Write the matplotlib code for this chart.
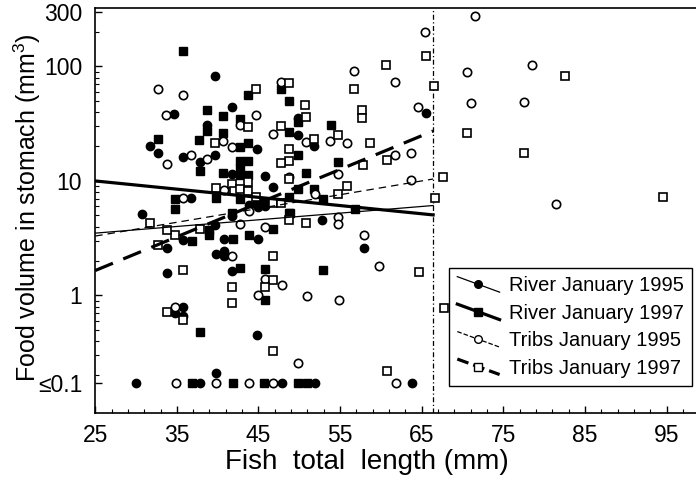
import numpy as np
import matplotlib
matplotlib.use("Agg")
import matplotlib.pyplot as plt
from matplotlib.lines import Line2D
from matplotlib.legend_handler import HandlerBase
from matplotlib.ticker import FixedLocator, MultipleLocator, LogLocator, NullFormatter

plt.rcParams['font.family'] = ['Liberation Sans', 'DejaVu Sans']
plt.rcParams['mathtext.default'] = 'regular'

LOW = 0.172  # plotting position of the "<=0.1" class

# ---- data ----
r95_x = [39.7, 34.7, 41.7, 38.7, 31.7, 32.7, 44.8, 35.7, 37.8, 39.7, 41.7, 45.8, 36.7,
         49.8, 49.8, 46.8, 43.9, 45.0, 45.8, 41.7, 39.7, 35.8, 44.9, 40.8, 39.8, 40.8,
         40.8, 41.7, 35.8, 30.7, 33.8, 33.8, 34.8, 35.8, 44.8, 39.8, 51.8, 65.5, 52.8,
         57.9, 30.0, 37.8, 47.9, 51.9, 63.8]
r95_y = [83, 38.5, 44.5, 31, 20.3, 17.7, 19, 16.3, 14.5, 16.9, 11.4, 11.1, 7.1,
         35.3, 25.2, 8.9, 6.2, 5.9, 6.0, 4.9, 4.1, 3.05, 3.1, 3.1, 2.3, 2.45,
         2.2, 1.65, 0.8, 5.15, 2.6, 1.56, 0.7, 0.66, 0.45, 0.21, 20.2, 39, 4.6,
         2.6, LOW, LOW, LOW, LOW, LOW]

r97_x = [35.7, 43.7, 38.7, 40.6, 42.7, 38.7, 40.6, 32.7, 37.7, 42.7, 43.7, 37.8, 40.7,
         42.7, 43.7, 42.7, 42.7, 43.7, 34.8, 47.8, 48.7, 48.8, 49.8, 50.8, 49.9, 34.8,
         39.8, 42.7, 44.8, 45.8, 48.9, 41.7, 46.8, 38.9, 38.9, 36.8, 43.9, 41.9, 42.7,
         45.8, 45.8, 37.8, 48.8, 52.9, 56.8, 48.8, 52.9, 53.9, 54.8, 51.8, 49.8,
         36.8, 41.9, 45.7, 49.9, 50.9]
r97_y = [137, 56, 42, 37, 35, 27.5, 26.4, 23.1, 22.8, 19.9, 21.6, 12.3, 11.7,
         15.0, 15.0, 12.9, 11.3, 11.3, 7.0, 63.6, 50.3, 27, 16.9, 11.8, 8.5, 5.7,
         7.1, 6.9, 6.4, 6.6, 5.3, 5.3, 3.8, 3.7, 3.4, 3.0, 3.4, 3.1, 1.73,
         1.69, 0.91, 0.48, 7.2, 6.9, 5.7, 5.2, 1.67, 30.8, 14.5, 8.5, 33,
         LOW, LOW, LOW, LOW, LOW]

t95_x = [32.7, 35.7, 33.7, 44.7, 42.7, 40.7, 41.7, 33.8, 36.7, 38.7, 40.8, 35.8, 47.8,
         46.8, 50.8, 48.8, 43.8, 42.7, 45.8, 41.7, 45.8, 47.9, 44.9, 50.9, 34.8, 51.9,
         54.8, 54.8, 57.9, 59.8, 54.9, 49.9, 64.6, 53.8, 55.8, 54.8, 61.7, 63.7, 63.7,
         65.4, 61.7, 56.7, 71.5, 70.5, 78.5, 71.0, 77.5, 81.5,
         34.9, 39.8, 43.9, 46.8, 61.9]
t95_y = [63, 56, 37.7, 37.7, 30.8, 22.5, 19.7, 14.0, 16.8, 15.6, 8.3, 7.1, 72.8,
         25.7, 22, 10.8, 5.5, 4.2, 4.0, 2.2, 1.38, 1.24, 1.0, 0.98, 0.79, 7.7,
         4.8, 4.2, 3.4, 1.81, 0.91, 0.256, 44.6, 22.5, 21.6, 11.5, 16.9, 17.7, 10.2,
         199, 73.6, 91.9, 278, 90, 103, 48.3, 48.7, 6.3,
         LOW, LOW, LOW, LOW, LOW]

t97_x = [44.7, 48.7, 50.7, 50.8, 43.7, 47.8, 39.7, 48.8, 48.8, 47.8, 39.8, 41.7, 43.7,
         42.0, 42.7, 43.7, 44.7, 48.8, 46.8, 47.8, 48.8, 50.8, 37.8, 34.8, 31.7, 33.8,
         32.7, 46.8, 35.8, 46.8, 45.8, 41.7, 41.7, 33.8, 35.8, 54.8, 46.8, 60.8, 64.7,
         57.7, 57.7, 54.8, 51.8, 58.7, 57.8, 60.8, 55.8, 66.6, 65.5, 66.5, 60.6, 56.7,
         70.5, 77.5, 67.6, 94.5, 82.5, 67.7]
t97_y = [64, 71.3, 46, 36, 29.4, 30.2, 21.6, 18.9, 14.8, 14.3, 8.7, 9.4, 9.7,
         8.1, 8.5, 8.1, 7.3, 10.3, 6.4, 6.4, 4.6, 4.3, 3.8, 3.4, 4.3, 3.7,
         2.76, 2.2, 1.67, 1.37, 1.19, 1.19, 0.86, 0.71, 0.61, 7.7, 0.33, 0.22, 1.61,
         41.7, 35.3, 25.2, 23.1, 21.6, 13.8, 15.3, 9.0, 7.1, 124, 67.6, 103, 63.2,
         26.1, 17.5, 10.9, 7.2, 83, 0.77]

# regression lines (x-range and fitted values at the ends)
fit_x = [25, 66.4]
r95_fit = [3.5, 6.1]
r97_fit = [10.0, 5.05]
t95_fit = [3.3, 10.4]
t97_fit = [1.65, 27.3]
cutoff_x = 66.4

series_labels = ["River January 1995", "River January 1997",
                 "Tribs January 1995", "Tribs January 1997"]
ytick_vals = [LOW, 1, 10, 100, 300]
ytick_labels = ["\u22640.1", "1", "10", "100", "300"]
xtick_vals = [25, 35, 45, 55, 65, 75, 85, 95]

# ---- figure ----
fig = plt.figure(figsize=(6.96, 4.78), dpi=100)
ax = fig.add_axes([95.2 / 696, 1 - 413 / 478, 1 - 95.2 / 696, (413 - 8) / 478])
ax.set_yscale('log')
ax.set_xlim(25, 98.6)
ax.set_ylim(0.094, 324)

ms = 6.0
ax.plot(r95_x, r95_y, 'o', ms=ms, mfc='black', mec='black', ls='none', zorder=3)
ax.plot(r97_x, r97_y, 's', ms=ms, mfc='black', mec='black', ls='none', zorder=3)
ax.plot(t95_x, t95_y, 'o', ms=ms, mfc='white', mec='black', mew=1.2, ls='none', zorder=3)
ax.plot(t97_x, t97_y, 's', ms=ms, mfc='white', mec='black', mew=1.2, ls='none', zorder=3)

ax.plot(fit_x, r95_fit, color='black', lw=0.9, zorder=4)
ax.plot(fit_x, r97_fit, color='black', lw=2.3, zorder=4)
ax.plot(fit_x, t95_fit, color='black', lw=0.9, ls=(0, (6, 4)), zorder=4)
ax.plot(fit_x, t97_fit, color='black', lw=2.3, ls=(0, (6, 3.5)), zorder=4)

ax.axvline(cutoff_x, color='black', lw=0.9, ls=(0, (4, 2, 1, 2)), zorder=2)

ax.spines['right'].set_visible(False)
for s in ['left', 'bottom', 'top']:
    ax.spines[s].set_linewidth(1.2)

ax.yaxis.set_major_locator(FixedLocator(ytick_vals))
ax.set_yticklabels(ytick_labels)
ax.yaxis.set_minor_locator(LogLocator(base=10, subs=np.arange(2, 10)))
ax.yaxis.set_minor_formatter(NullFormatter())
ax.xaxis.set_major_locator(FixedLocator(xtick_vals))
ax.xaxis.set_minor_locator(MultipleLocator(2, offset=1))
ax.tick_params(which='both', direction='in', top=False, right=False, labelsize=16.5)
ax.tick_params(which='major', length=5, width=1)
ax.tick_params(which='minor', length=3, width=0.8)
ax.tick_params(axis='x', pad=8)
ax.tick_params(axis='y', pad=9.4)

ax.set_xlabel("Fish  total  length (mm)", fontsize=20)
ax.xaxis.set_label_coords(0.452, -0.088)
ax.set_ylabel("Food volume in stomach (mm$^3$)", fontsize=18)
ax.yaxis.set_label_coords(-0.087, 0.506)


class SlantHandler(HandlerBase):
    def create_artists(self, legend, orig_handle, xdescent, ydescent, width,
                       height, fontsize, trans):
        x0 = -xdescent
        x1 = -xdescent + width
        ytop = -ydescent + height * 1.05
        ybot = -ydescent - height * 0.05
        line = Line2D([x0, x1], [ytop, ybot], color='black',
                      lw=orig_handle.get_linewidth(),
                      ls=orig_handle.get_linestyle())
        line.set_transform(trans)
        mk = Line2D([(x0 + x1) / 2], [(ytop + ybot) / 2],
                    marker=orig_handle.get_marker(), ms=orig_handle.get_markersize(),
                    mfc=orig_handle.get_markerfacecolor(), mec='black', ls='none')
        mk.set_transform(trans)
        return [line, mk]


handles = [
    Line2D([], [], color='black', lw=0.9, marker='o', ms=5.5, mfc='black'),
    Line2D([], [], color='black', lw=2.3, marker='s', ms=5.5, mfc='black'),
    Line2D([], [], color='black', lw=0.9, ls=(0, (3, 3)), marker='o', ms=5.5, mfc='white'),
    Line2D([], [], color='black', lw=2.3, ls=(0, (3, 2.5)), marker='s', ms=5.5, mfc='white'),
]
leg = fig.legend(handles, series_labels, loc='upper right',
                 bbox_to_anchor=(692 / 696, 1 - 268 / 478),
                 handler_map={Line2D: SlantHandler()},
                 fontsize=14.5, frameon=True, fancybox=False, edgecolor='black',
                 framealpha=1, borderpad=0.42, labelspacing=0.42, handlelength=2.1,
                 handletextpad=0.45, borderaxespad=0)
leg.get_frame().set_linewidth(1.0)

fig.savefig("out.png", dpi=100)
